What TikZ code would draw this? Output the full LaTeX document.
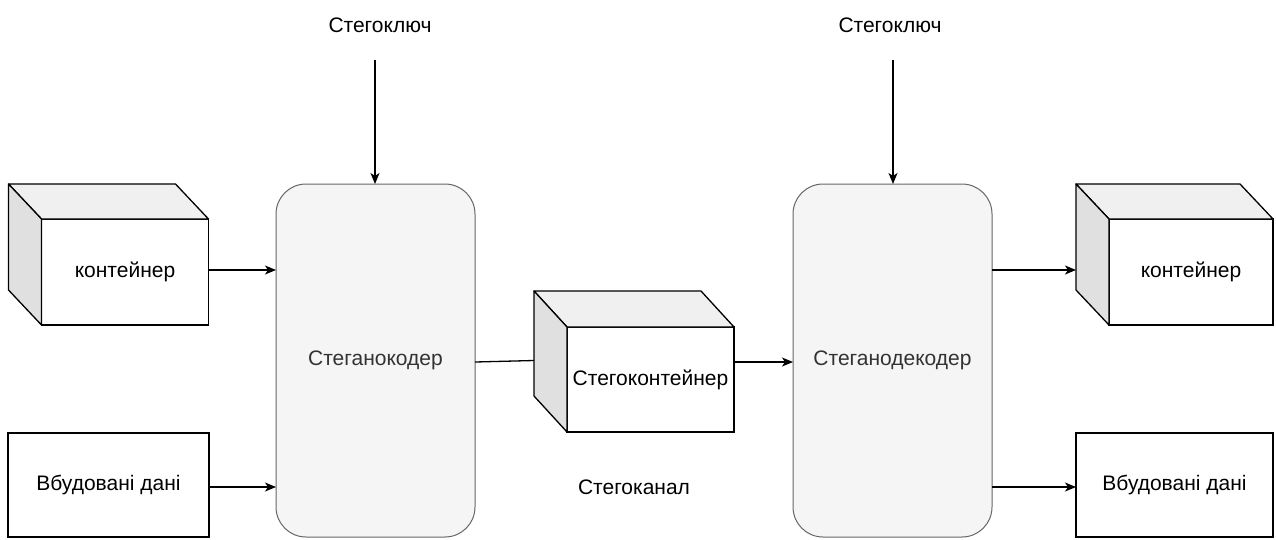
\documentclass[tikz,border=0pt]{standalone}
\usepackage{fontspec}
\setmainfont{Liberation Sans}
\usetikzlibrary{arrows.meta,calc}
\definecolor{procfill}{HTML}{F5F5F5}
\definecolor{procline}{HTML}{666666}
\definecolor{proctext}{HTML}{333333}
\definecolor{topface}{HTML}{F0F0F0}
\definecolor{sideface}{HTML}{E0E0E0}
\tikzset{
  txt/.style={font=\fontsize{21}{24}\selectfont},
  lbl/.style={txt, text=black},
  front/.style={txt, draw=black, line width=1.3pt, fill=white, inner sep=0pt, outer sep=0pt},
  plainbox/.style={front},
  proc/.style={txt, draw=procline, line width=1pt, fill=procfill, rounded corners=30pt,
    inner sep=0pt, outer sep=0pt, minimum width=199pt, minimum height=353pt, text=proctext},
  face/.style={draw=black, line width=1.3pt, line join=round},
  conn/.style={draw=black, line width=1.3pt},
  arr/.style={conn, -{Stealth[length=11pt,width=9pt,inset=3pt]}},
}
% cube: front face node #1, depth (#2,#3), top and left faces
\newcommand\cubefaces[3]{%
  \filldraw[face, fill=topface] (#1.north west) -- ++(-#2,-#3)
    -- ($(#1.north east)+(-#2,-#3)$) -- (#1.north east) -- cycle;
  \filldraw[face, fill=sideface] (#1.north west) -- ++(-#2,-#3)
    -- ($(#1.south west)+(-#2,-#3)$) -- (#1.south west) -- cycle;
}
\begin{document}
\begin{tikzpicture}[x=1pt,y=-1pt]
\useasboundingbox (0,0) rectangle (1276,539);

% processing blocks
\node[proc] (enc) at (375.5,360.5) {Стеганокодер};
\node[proc] (dec) at (892.5,360.5) {Стеганодекодер};

% keys
\node[lbl] (key1) at (380,25) {Стегоключ};
\node[lbl] (key2) at (890,25) {Стегоключ};
\coordinate (k1s) at (375,60);
\coordinate (k2s) at (893,60);

% input side
\node[front, minimum width=167pt, minimum height=106pt] (cin) at (125,272) {контейнер};
\cubefaces{cin}{33}{35}
\node[plainbox, minimum width=201pt, minimum height=104pt] (din) at (108.5,485) {Вбудовані дані};

% channel
\node[front, minimum width=167pt, minimum height=105pt] (sc) at (650.5,379.5) {Стегоконтейнер};
\cubefaces{sc}{33}{36}
\node[lbl] (chan) at (634,487) {Стегоканал};

% output side
\node[front, minimum width=164pt, minimum height=106pt] (cout) at (1191,272) {контейнер};
\cubefaces{cout}{33}{35}
\node[plainbox, minimum width=197pt, minimum height=104pt] (dout) at (1174.5,485) {Вбудовані дані};

% connectors
\draw[arr] (k1s) -- (k1s |- enc.north);
\draw[arr] (k2s) -- (k2s |- dec.north);
\draw[arr] (cin.east |- 0,270) -- (enc.west |- 0,270);
\draw[arr] (din.east |- 0,487) -- (enc.west |- 0,487);
\draw[conn] (enc.east |- 0,362) -- ($(sc.west)+(-33,-19)$);
\draw[arr] (sc.east |- 0,362) -- (dec.west |- 0,362);
\draw[arr] (dec.east |- 0,270) -- ($(cout.west |- 0,270)+(-33,0)$);
\draw[arr] (dec.east |- 0,487) -- (dout.west |- 0,487);
\end{tikzpicture}
\end{document}
